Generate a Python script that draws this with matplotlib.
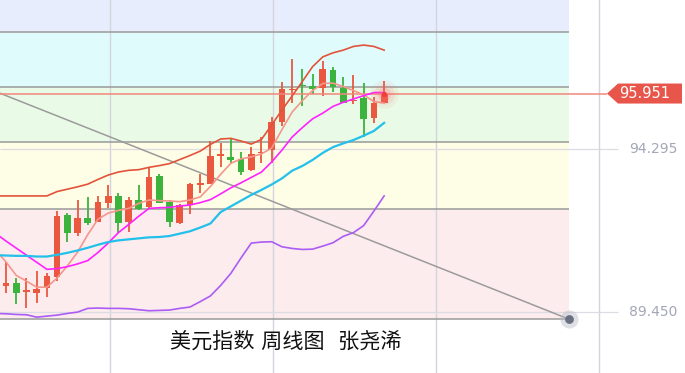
import matplotlib
matplotlib.use("Agg")
import matplotlib.pyplot as plt
import numpy as np
from matplotlib.patches import Rectangle, Polygon

plt.rcParams['font.family'] = ['Noto Sans CJK SC', 'DejaVu Sans']

# ---------------- data (weekly candles, index 0..37) ----------------
opens = [90.24, 90.32, 90.07, 90.04, 90.18, 90.51, 92.34, 91.82, 92.25, 92.14,
         92.71, 92.91, 92.14, 92.79, 92.57, 93.50, 92.74, 92.11, 92.64, 93.23,
         93.26, 94.11, 94.06, 94.00, 93.67, 94.19, 94.27, 95.11, 96.05, 96.19,
         96.18, 96.11, 96.65, 96.12, 95.73, 95.83, 95.21, 95.68]
highs = [90.94, 90.46, 90.47, 90.69, 90.63, 92.46, 92.40, 92.79, 92.89, 92.91,
         93.23, 92.99, 92.87, 93.23, 93.76, 93.56, 92.79, 92.67, 93.30, 93.56,
         94.54, 94.47, 94.60, 94.21, 94.35, 94.65, 95.25, 96.28, 96.98, 96.68,
         96.53, 96.92, 96.75, 96.43, 96.50, 96.27, 95.86, 96.32]
lows = [90.04, 89.69, 89.59, 89.72, 89.90, 90.38, 91.55, 91.73, 92.05, 92.13,
        92.54, 91.80, 91.85, 92.49, 92.55, 92.69, 91.98, 92.09, 92.37, 93.01,
        93.26, 93.76, 93.86, 93.53, 93.65, 93.89, 93.88, 94.99, 95.66, 95.58,
        95.95, 95.89, 96.01, 95.66, 95.64, 94.67, 95.07, 95.68]
closes = [90.31, 90.04, 90.10, 90.15, 90.53, 92.31, 91.82, 92.25, 92.11, 92.73,
          92.91, 92.11, 92.79, 92.52, 93.46, 92.71, 92.14, 92.64, 93.26, 93.30,
          94.10, 94.13, 93.98, 93.63, 94.16, 94.21, 95.11, 96.09, 96.09, 96.17,
          96.08, 96.68, 96.14, 95.68, 95.76, 95.19, 95.68, 95.951]

# indicator lines, index -1..37
upper_band = [92.91, 92.91, 92.91, 92.91, 92.91, 92.91, 93.04, 93.11, 93.18, 93.26,
              93.40, 93.53, 93.62, 93.67, 93.69, 93.76, 93.81, 93.87, 93.99, 94.11,
              94.24, 94.44, 94.60, 94.62, 94.54, 94.45, 94.59, 95.02, 95.46, 95.88,
              96.31, 96.75, 97.04, 97.16, 97.24, 97.35, 97.39, 97.35, 97.24]
ma5 = [91.30, 90.95, 90.55, 90.38, 90.20, 90.20, 90.47, 90.83, 91.24, 91.76,
       92.22, 92.40, 92.48, 92.54, 92.69, 92.79, 92.77, 92.76, 92.74, 92.79,
       92.88, 93.19, 93.55, 93.88, 94.01, 94.07, 94.16, 94.33, 94.88, 95.40,
       95.74, 96.04, 96.25, 96.26, 96.16, 96.04, 95.91, 95.71, 95.67]
ma10 = [91.79, 91.57, 91.36, 91.15, 90.94, 90.73, 90.75, 90.81, 90.89, 90.99,
        91.23, 91.51, 91.82, 92.06, 92.31, 92.54, 92.56, 92.57, 92.61, 92.64,
        92.71, 92.80, 92.97, 93.15, 93.30, 93.46, 93.62, 93.92, 94.27, 94.66,
        94.94, 95.20, 95.37, 95.57, 95.69, 95.79, 95.89, 95.98, 95.98]
ma20 = [91.15, 91.14, 91.13, 91.13, 91.11, 91.11, 91.16, 91.22, 91.29, 91.37,
        91.46, 91.54, 91.59, 91.62, 91.65, 91.68, 91.69, 91.72, 91.79, 91.86,
        91.97, 92.09, 92.43, 92.60, 92.77, 92.94, 93.09, 93.25, 93.43, 93.66,
        93.80, 93.98, 94.19, 94.36, 94.47, 94.57, 94.70, 94.84, 95.08]
lower_band = [89.42, 89.41, 89.39, 89.38, 89.31, 89.34, 89.37, 89.42, 89.46, 89.57,
              89.58, 89.57, 89.57, 89.56, 89.53, 89.50, 89.51, 89.52, 89.57, 89.61,
              89.77, 89.94, 90.25, 90.61, 91.07, 91.51, 91.54, 91.55, 91.40, 91.35,
              91.32, 91.33, 91.42, 91.52, 91.71, 91.82, 92.03, 92.46, 92.91]

fib_levels = [97.77, 96.14, 94.50, 92.51, 89.25]
band_colors = ['#e8edfd', '#e0fbfb', '#e9fbe6', '#fefde6', '#fdeced']
last_price = 95.951
axis_labels = [94.295, 89.450]
trend_start = 95.96
trend_end = 89.25
title = "美元指数 周线图  张尧浠"

# ---------------- layout ----------------
W, H = 685, 373
X0, X1 = -0.587, 66.44
Y0, Y1 = 87.651, 98.729

fig = plt.figure(figsize=(6.85, 3.73), dpi=100)
ax = fig.add_axes([0, 0, 1, 1])
ax.set_xlim(X0, X1)
ax.set_ylim(Y0, Y1)
ax.axis('off')


def fx(px):
    return X0 + px / W * (X1 - X0)


py_unit = (Y1 - Y0) / H  # price per pixel
band_right = 569 / W

# coloured bands
edges = [Y1] + fib_levels
for i, col in enumerate(band_colors):
    ax.axhspan(edges[i + 1], edges[i], xmin=0, xmax=band_right, color=col, lw=0, zorder=0)

# vertical grid lines
for p in [110, 272.5, 436, 599]:
    ax.axvline(fx(p), color='#d4d4dc', lw=1, zorder=1)

# band separator lines
ax.hlines(fib_levels, X0, fx(569), color='#9a9a9a', lw=1.1, zorder=2)

# axis price lines
ax.hlines(axis_labels, X0, fx(618), color='#dcdce4', lw=0.9, zorder=1.5)

# trend line
ax.plot([X0, fx(569)], [trend_start, trend_end], color='#9b9b9b', lw=1.1, zorder=2.5)

# candles
xs = np.arange(len(opens))
bw = 0.66
for i in xs:
    o, h, l, c = opens[i], highs[i], lows[i], closes[i]
    up = c >= o
    col = '#e9583f' if up else '#3cb33c'
    ax.vlines(i, l, h, color=col, lw=1.3, zorder=3)
    bot, top = min(o, c), max(o, c)
    hgt = max(top - bot, 1.2 * py_unit)
    ax.add_patch(Rectangle((i - bw / 2, bot), bw, hgt, facecolor=col, edgecolor='none', zorder=3.1))

# indicator lines
lx = np.arange(-1, len(opens))
ax.plot(lx, upper_band, color='#e2533b', lw=1.2, zorder=4)
ax.plot(lx, ma5, color='#f5968c', lw=1.2, zorder=4)
ax.plot(lx, ma10, color='#ff22ff', lw=1.2, zorder=4)
ax.plot(lx, ma20, color='#22c0ea', lw=1.6, zorder=4)
ax.plot(lx, lower_band, color='#aa5cf5', lw=1.2, zorder=4)

# last price line + glow
ax.hlines(last_price, X0, fx(607), color='#f2877c', lw=1.1, zorder=3.5)
for s, a in [(420, 0.08), (220, 0.12), (90, 0.2)]:
    ax.scatter([len(opens) - 1], [last_price], s=s, color='#ff6a6a', alpha=a, lw=0, zorder=5)
ax.scatter([len(opens) - 1], [last_price], s=14, color='#f23b3b', lw=0, zorder=5.1)

# tag for last price
hh = 10 * py_unit
tag = Polygon([[fx(607), last_price], [fx(618), last_price + hh], [fx(682), last_price + hh],
               [fx(682), last_price - hh], [fx(618), last_price - hh]],
              closed=True, facecolor='#e8554a', edgecolor='none', zorder=6)
ax.add_patch(tag)
ax.text(fx(645), last_price, f"{last_price:.3f}", color='white', fontsize=10.5,
        ha='center', va='center', family=['DejaVu Sans'], zorder=7)

for v in axis_labels:
    ax.text(fx(653), v, f"{v:.3f}", color='#a3a6b6', fontsize=10,
            ha='center', va='center', family=['DejaVu Sans'], zorder=7)

# end point of trend line
ax.scatter([fx(569)], [trend_end], s=170, color='#b8bcc8', alpha=0.45, lw=0, zorder=6)
ax.scatter([fx(569)], [trend_end], s=40, color='#6a7082', lw=0, zorder=6.1)

# title (DejaVu first so the spaces are a little wider, CJK glyphs fall back to Noto)
fig.text(285.3 / W, 1 - 341.7 / H, title, ha='center', va='center', fontsize=15.2,
         color='#111111', family=['DejaVu Sans', 'Noto Sans CJK SC'])

fig.savefig('out.png', dpi=100)
